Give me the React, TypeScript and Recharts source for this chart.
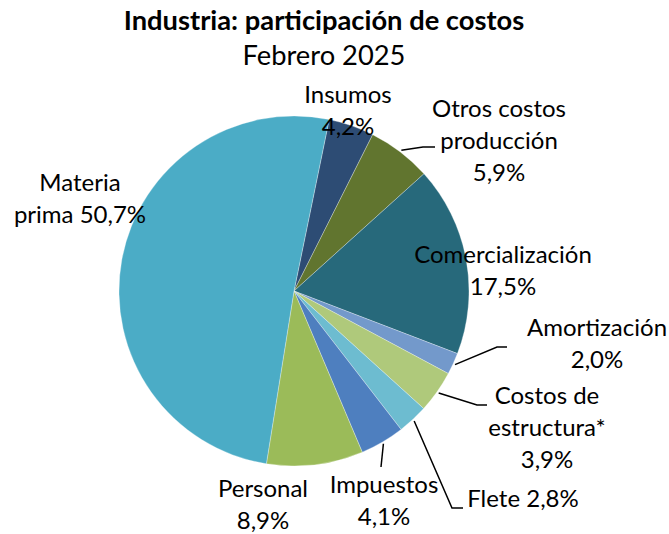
import { Pie, PieChart, Cell } from "recharts";

const categories = [
  "Insumos",
  "Otros costos producción",
  "Comercialización",
  "Amortización",
  "Costos de estructura*",
  "Flete",
  "Impuestos",
  "Personal",
  "Materia prima",
];
const shares = [4.2, 5.9, 17.5, 2.0, 3.9, 2.8, 4.1, 8.9, 50.7];
const sliceColors = [
  "#2D4C74",
  "#61752F",
  "#27697B",
  "#7399CB",
  "#AFC97B",
  "#6DBCD0",
  "#4E7FBF",
  "#9BBB59",
  "#4BACC6",
];

// how each label is broken into lines; {v} is the share
const labelLines = [
  ["Insumos", "{v}"],
  ["Otros costos", "producción", "{v}"],
  ["Comercialización", "{v}"],
  ["Amortización", "{v}"],
  ["Costos de", "estructura*", "{v}"],
  ["Flete {v}"],
  ["Impuestos", "{v}"],
  ["Personal", "{v}"],
  ["Materia", "prima {v}"],
];

type LabelPos = { dx: number; dy: number; leader?: [number, number][] };

// label position relative to pie centre (first baseline) and leader bends
const labelPos: LabelPos[] = [
  { dx: 54, dy: -188 },
  { dx: 205, dy: -174, leader: [[129, -144], [141, -144]] },
  { dx: 209, dy: -28 },
  { dx: 303, dy: 45, leader: [[203, 56], [213, 56]] },
  { dx: 253, dy: 113, leader: [[183, 114], [193, 114]] },
  { dx: 229, dy: 216, leader: [[158, 217], [169, 217]] },
  { dx: 90, dy: 202, leader: [[87, 176], [87, 176]] },
  { dx: -31, dy: 206 },
  { dx: -214, dy: -100 },
];

const data = categories.map((name, i) => ({ name, value: shares[i] }));

const FONT = "Lato, 'Open Sans', sans-serif";
const RAD = Math.PI / 180;

const fmt = (v: number) => v.toFixed(1).replace(".", ",") + "%";

const renderLabel = (props: any) => {
  const { cx, cy, midAngle, outerRadius, index, value } = props;
  const pos = labelPos[index];
  const lines = labelLines[index].map((l) => l.replace("{v}", fmt(value)));
  const lx = cx + pos.dx;
  const ly = cy + pos.dy;
  let path = "";
  if (pos.leader) {
    const sx = cx + (outerRadius + 2) * Math.cos(-midAngle * RAD);
    const sy = cy + (outerRadius + 2) * Math.sin(-midAngle * RAD);
    path = `M${sx},${sy}` + pos.leader.map(([x, y]) => ` L${cx + x},${cy + y}`).join("");
  }
  return (
    <g key={`lbl-${index}`}>
      {path && <path d={path} stroke="#000" strokeWidth={1.5} fill="none" />}
      <text
        x={lx}
        y={ly}
        textAnchor="middle"
        fontFamily={FONT}
        fontSize={24}
        fill="#000"
      >
        {lines.map((t, k) => (
          <tspan key={k} x={lx} dy={k === 0 ? 0 : 32}>
            {t}
          </tspan>
        ))}
      </text>
    </g>
  );
};

export default function App() {
  return (
    <div style={{ position: "relative", width: 669, height: 534, background: "#fff" }}>
      <style>{`body{margin:0}`}</style>
      <div
        style={{
          position: "absolute",
          top: 0,
          left: 0,
          width: 648,
          textAlign: "center",
          fontFamily: FONT,
          color: "#000",
          lineHeight: 1,
        }}
      >
        <div style={{ fontWeight: 700, fontSize: 27.3, marginTop: 6 }}>
          Industria: participación de costos
        </div>
        <div style={{ fontSize: 27.3, marginTop: 8 }}>Febrero 2025</div>
      </div>
      <PieChart width={669} height={534} margin={{ top: 0, right: 0, bottom: 0, left: 0 }}>
        <Pie
          data={data}
          dataKey="value"
          nameKey="name"
          cx={294}
          cy={291}
          outerRadius={175}
          startAngle={78.4}
          endAngle={-281.6}
          stroke="#ffffff"
          strokeWidth={0.3}
          label={renderLabel}
          labelLine={false}
          isAnimationActive={false}
        >
          {data.map((d, i) => (
            <Cell key={d.name} fill={sliceColors[i]} />
          ))}
        </Pie>
      </PieChart>
    </div>
  );
}
